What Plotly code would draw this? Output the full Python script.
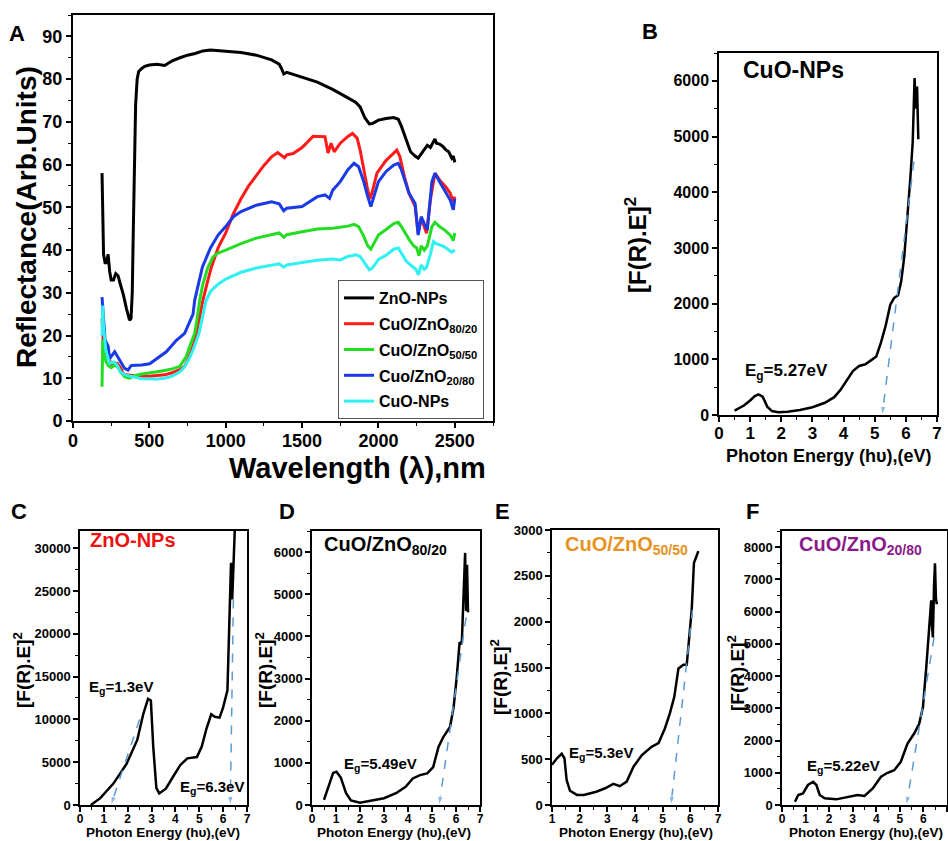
import plotly.graph_objects as go

# ---------------- Panel A data (reflectance vs wavelength) ----------------
zno_wl = [190, 193, 196, 200, 210, 220, 230, 240, 250, 265, 280, 295, 310, 330, 350, 360, 370, 380,
          388, 395, 400, 405, 410, 420, 430, 450, 470, 500, 550, 600, 650, 700, 750, 800, 850, 900,
          950, 1000, 1100, 1200, 1300, 1350, 1365, 1380, 1400, 1450, 1500, 1600, 1700, 1750, 1800,
          1850, 1880, 1910, 1940, 1960, 2000, 2050, 2100, 2130, 2150, 2180, 2210, 2240, 2260, 2280,
          2300, 2320, 2340, 2360, 2370, 2380, 2400, 2420, 2440, 2460, 2480, 2490, 2500]
zno_r = [58, 50, 42, 39, 37, 37, 39, 35, 33, 33, 34.5, 34, 32, 29.5, 26.3, 24.5, 23.6, 24,
         30, 45, 57, 67, 74, 80, 81.8, 82.5, 83, 83.3, 83.5, 83.2, 84.3, 85, 85.6, 86, 86.6, 86.8,
         86.6, 86.5, 86.2, 85.6, 84.5, 83.5, 82.5, 81.2, 81.6, 81, 80.5, 79.3, 77.6, 76.5, 75.6,
         74.6, 73.5, 71, 69.5, 69.6, 70.4, 70.8, 71, 70.6, 69, 66, 63, 62, 61.5, 62.5,
         63.5, 64.5, 64, 65.5, 66, 65, 64.8, 64.3, 63.5, 63, 61.5, 62, 60.5]

cz8020_wl = [190, 195, 200, 210, 230, 250, 270, 290, 310, 330, 350, 400, 450, 500, 600, 650, 700,
             731, 760, 790, 808, 830, 851, 880, 906, 950, 1000, 1050, 1100, 1150, 1200, 1250, 1300,
             1340, 1370, 1385, 1400, 1441, 1500, 1572, 1650, 1670, 1690, 1710, 1750, 1800, 1830,
             1860, 1880, 1900, 1930, 1945, 1960, 1990, 2050, 2100, 2120, 2140, 2170, 2200, 2240,
             2260, 2280, 2300, 2315, 2340, 2370, 2400, 2440, 2470, 2490, 2500]
cz8020_r = [24, 21, 17, 15, 15.5, 13, 13.5, 13.5, 12.5, 11, 10.8, 10.6, 10.5, 10.5, 10.8, 11.3, 12,
            12.8, 15, 18, 20.5, 24.5, 28.3, 32.5, 36, 40.5, 44, 48.5, 52, 55, 57.5, 59.8, 61.8,
            62.8, 62, 61.6, 62.3, 62.6, 64, 66.6, 66.5, 62.7, 65, 63, 65, 66.6, 67.3,
            66.2, 63.4, 59.5, 54, 52, 53.7, 58, 61, 62.7, 63.4, 61.9, 57.2, 53.3, 50.2,
            43.9, 47.4, 45.5, 43.9, 51.7, 58, 56.4, 54.8, 53.3, 51.3, 52.5]

cz5050_wl = [190, 195, 200, 215, 230, 250, 270, 290, 310, 340, 370, 400, 450, 500, 550, 600, 650,
             700, 740, 770, 797, 815, 830, 850, 884, 917, 950, 1000, 1100, 1200, 1300, 1350, 1380,
             1400, 1500, 1600, 1700, 1800, 1840, 1870, 1900, 1930, 1950, 1970, 2000, 2050, 2100,
             2130, 2150, 2200, 2230, 2250, 2265, 2280, 2300, 2320, 2350, 2370, 2400, 2440, 2470,
             2490, 2500]
cz5050_r = [8, 19, 16, 14, 13, 12.5, 13, 12.8, 11.5, 10.3, 10, 10.6, 11, 11.2, 11.5, 11.8, 12.2,
            12.8, 15, 18, 20.5, 24.5, 28.3, 32, 36, 38.4, 39.3, 40, 41.5, 42.8, 43.7, 44, 43,
            43.6, 44.3, 44.9, 45.1, 45.6, 46, 45.5, 43.5, 41, 40.2, 41.5, 43.5, 44.8, 46.2,
            46.5, 45.5, 42.5, 41, 40.5, 38.7, 41, 40, 41, 45.5, 46.5, 45.5, 44.5, 43.5,
            42.2, 44]

cz2080_wl = [190, 200, 210, 230, 240, 273, 300, 338, 360, 382, 450, 502, 611, 677, 731, 786, 797,
             847, 900, 950, 1000, 1050, 1100, 1200, 1300, 1350, 1380, 1400, 1500, 1600, 1650, 1680,
             1700, 1750, 1800, 1840, 1870, 1900, 1930, 1950, 1970, 2000, 2050, 2100, 2130, 2150,
             2200, 2240, 2260, 2280, 2300, 2320, 2350, 2370, 2400, 2440, 2470, 2490, 2500]
cz2080_r = [29, 24, 19, 17.5, 14.6, 16.2, 14.5, 12.3, 11.9, 13, 13.1, 13.4, 16.2, 18.9, 20.5, 25, 28.3,
            36, 40.5, 43.5, 45.5, 47.8, 49, 50.5, 51.3, 50.8, 49.2, 49.8, 50.2, 52.5, 52.9, 52.1,
            54, 56, 58.8, 60.3, 59.5, 56.4, 52.5, 50.2, 52.5, 56, 58.4, 59.9, 60.3, 58.8,
            53.3, 50.9, 43.5, 47.8, 46.2, 44.7, 56, 58, 56, 53.7, 51.7, 49.4, 52]

cuo_wl = [190, 195, 200, 215, 240, 270, 290, 310, 340, 370, 400, 450, 500, 550, 600, 650, 700, 731,
          760, 790, 825, 850, 870, 900, 950, 1000, 1100, 1200, 1300, 1350, 1380, 1400, 1500, 1600,
          1700, 1750, 1800, 1850, 1880, 1910, 1940, 1960, 2000, 2050, 2100, 2130, 2150, 2180, 2220,
          2245, 2262, 2280, 2300, 2315, 2340, 2360, 2380, 2400, 2430, 2460, 2480, 2500]
cuo_r = [20, 27, 22, 16.5, 13.5, 13.8, 13, 11.5, 10.8, 10.5, 10.3, 9.9, 9.8, 9.8, 10, 10.5, 11.5, 12.7,
         14.5, 17, 20.5, 25, 28, 30.3, 32, 33.2, 34.8, 35.8, 36.5, 36.8, 36, 36.5, 37.1, 37.6,
         37.9, 37.7, 38.5, 38.9, 38.5, 37, 35.4, 35.8, 37.8, 38.8, 40.2, 40.5, 39.3, 37.5, 36.2,
         35.5, 34.2, 36.5, 35.5, 36, 39, 42, 41.5, 41.2, 40.8, 40, 39.5, 40]

series_names = ["ZnO-NPs", "CuO/ZnO<sub>80/20</sub>", "CuO/ZnO<sub>50/50</sub>",
                "Cuo/ZnO<sub>20/80</sub>", "CuO-NPs"]
series_colors = ["#000000", "#ff1a1a", "#22dd22", "#1a3ae6", "#30f0f0"]

# ---------------- Tauc plots data ----------------
b_e = [0.5, 0.8, 1.0, 1.15, 1.27, 1.4, 1.55, 1.7, 1.9, 2.2, 2.6, 3.0, 3.4, 3.7, 3.9, 4.1, 4.3, 4.5,
       4.7, 4.9, 5.05, 5.2, 5.35, 5.5, 5.62, 5.75, 5.85, 5.95, 6.05, 6.15, 6.22, 6.28, 6.32, 6.36, 6.4]
b_f = [80, 170, 260, 340, 370, 330, 150, 70, 50, 60, 90, 140, 220, 320, 450, 620, 790, 880,
       910, 990, 1050, 1300, 1600, 1980, 2100, 2150, 2400, 2850, 3500, 4300, 4900, 6050, 5500, 5900, 4950]
b_fit_e = [6.26, 5.24]
b_fit_f = [4550, 0]

c_e = [0.45, 0.85, 1.4, 1.95, 2.4, 2.65, 2.85, 2.97, 3.07, 3.2, 3.32, 3.6, 3.9, 4.2, 4.5, 4.9, 5.1,
       5.3, 5.5, 5.65, 5.85, 6.0, 6.18, 6.27, 6.33, 6.38, 6.42, 6.5]
c_f = [0, 800, 2500, 4800, 7600, 10600, 12400, 12200, 6800, 2000, 1350, 1900, 3300, 4650, 5450, 5600,
       6800, 8900, 10600, 10300, 10200, 11400, 13400, 21500, 28300, 24000, 28000, 33000]
c_fit1_e = [2.5, 1.3]
c_fit1_f = [10000, 0]
c_fit2_e = [6.43, 6.3]
c_fit2_f = [24000, 0]

d_e = [0.5, 0.62, 0.75, 0.88, 1.02, 1.2, 1.42, 1.62, 2.0, 2.5, 3.0, 3.5, 3.9, 4.2, 4.5, 4.8, 5.05,
       5.27, 5.47, 5.75, 5.9, 6.03, 6.15, 6.24, 6.32, 6.38, 6.42, 6.46, 6.5]
d_f = [120, 320, 590, 760, 790, 650, 280, 110, 55, 100, 160, 280, 430, 630, 710, 750, 900,
       1380, 1610, 1850, 2320, 3030, 3860, 3820, 5300, 5980, 4600, 5700, 4570]
d_fit_e = [6.42, 5.3]
d_fit_f = [4450, 0]

e_e = [1.0, 1.18, 1.35, 1.45, 1.53, 1.65, 1.9, 2.15, 2.6, 2.9, 3.22, 3.45, 3.7, 3.95, 4.25, 4.6,
       4.85, 5.08, 5.26, 5.42, 5.57, 5.75, 5.87, 5.97, 6.05, 6.13, 6.23, 6.29]
e_f = [440, 510, 560, 510, 270, 155, 110, 110, 145, 180, 230, 205, 255, 420, 545, 635,
       675, 835, 1000, 1180, 1490, 1530, 1530, 1870, 2130, 2640, 2730, 2770]
e_fit_e = [6.08, 5.3]
e_fit_f = [2130, 0]

f_e = [0.55, 0.69, 0.89, 1.1, 1.32, 1.46, 1.6, 1.81, 2.3, 2.86, 3.2, 3.5, 3.85, 4.2, 4.48, 4.76,
       5.04, 5.32, 5.6, 5.82, 5.98, 6.12, 6.23, 6.33, 6.36, 6.4, 6.45, 6.49, 6.53, 6.57]
f_f = [100, 310, 360, 620, 720, 620, 310, 210, 175, 255, 310, 280, 515, 875, 1000, 1080,
       1340, 1900, 2210, 2520, 3040, 4270, 5300, 6350, 5600, 5200, 6800, 7500, 6400, 6230]
f_fit_e = [6.45, 5.28]
f_fit_f = [5200, 0]

W, H = 948, 841
FONT = "Liberation Sans, Arial, sans-serif"
FIT_COLOR = "#5b9bd5"


def px(x):
    return x / W


def py(y):
    return 1 - y / H


fig = go.Figure()

# Panel A traces
a_x = [zno_wl, cz8020_wl, cz5050_wl, cz2080_wl, cuo_wl]
a_y = [zno_r, cz8020_r, cz5050_r, cz2080_r, cuo_r]
for i, (xs, ys, nm, col) in enumerate(zip(a_x, a_y, series_names, series_colors)):
    fig.add_trace(go.Scatter(x=xs, y=ys, name=nm, mode="lines", legendgroup=f"g{i}",
                             line=dict(color=col, width=3), xaxis="x", yaxis="y"))

panels = [
    ("2", b_e, b_f, [(b_fit_e, b_fit_f)]),
    ("3", c_e, c_f, [(c_fit1_e, c_fit1_f), (c_fit2_e, c_fit2_f)]),
    ("4", d_e, d_f, [(d_fit_e, d_fit_f)]),
    ("5", e_e, e_f, [(e_fit_e, e_fit_f)]),
    ("6", f_e, f_f, [(f_fit_e, f_fit_f)]),
]
for ax, xs, ys, fits in panels:
    fig.add_trace(go.Scatter(x=xs, y=ys, mode="lines", showlegend=False,
                             line=dict(color="black", width=2.5),
                             xaxis="x" + ax, yaxis="y" + ax))
    for fe, ff in fits:
        fig.add_trace(go.Scatter(x=fe, y=ff, mode="lines+markers", showlegend=False,
                                 line=dict(color=FIT_COLOR, width=1.5, dash="dash"),
                                 marker=dict(symbol="arrow", size=[0, 9], angleref="previous",
                                             color=FIT_COLOR),
                                 cliponaxis=False,
                                 xaxis="x" + ax, yaxis="y" + ax))


def axis_style(tick_size, rng, dtick, minor_dtick, domain, anchor, lw=1.5, standoff=0):
    return dict(range=rng, dtick=dtick, tick0=0, domain=domain, anchor=anchor,
                showline=True, linecolor="black", linewidth=lw, mirror=True,
                ticks="outside", ticklen=5, tickwidth=1.5, tickcolor="black",
                minor=dict(dtick=minor_dtick, ticks="outside", ticklen=3, tickwidth=1.2,
                           tickcolor="black"),
                showgrid=False, zeroline=False, exponentformat="none", separatethousands=False,
                tickformat="d", ticklabelstandoff=standoff,
                tickfont=dict(family=FONT, size=tick_size, color="black", weight="bold"))


layout = dict(width=W, height=H, margin=dict(l=0, r=0, t=0, b=0, autoexpand=False),
              paper_bgcolor="white", plot_bgcolor="white",
              font=dict(family=FONT, color="black"))

# Panel A axes
layout["xaxis"] = axis_style(18, [0, 2750], 500, 250, [px(73), px(493)], "y", lw=2, standoff=-3)
layout["yaxis"] = axis_style(18, [0, 95], 10, 5, [py(421), py(15)], "x", lw=2)
# Panel B
layout["xaxis2"] = axis_style(17, [0, 7], 1, 0.5, [px(719), px(937)], "y2", standoff=-3)
layout["yaxis2"] = axis_style(16, [0, 6500], 1000, 500, [py(415), py(53)], "x2")
# Panels C-F
layout["xaxis3"] = axis_style(12, [0, 7], 1, 0.5, [px(80), px(247)], "y3", standoff=-3)
layout["yaxis3"] = axis_style(13, [0, 32000], 5000, 2500, [py(805), py(531)], "x3")
layout["xaxis4"] = axis_style(12, [0, 7], 1, 0.5, [px(312), px(480)], "y4", standoff=-3)
layout["yaxis4"] = axis_style(13, [0, 6500], 1000, 500, [py(805), py(531)], "x4")
layout["xaxis5"] = axis_style(12, [1, 7], 1, 0.5, [px(552), px(718)], "y5", standoff=-3)
layout["yaxis5"] = axis_style(13, [0, 3000], 500, 250, [py(805), py(530)], "x5")
layout["xaxis6"] = axis_style(12, [0, 7], 1, 0.5, [px(782), px(947)], "y6", standoff=-3)
layout["yaxis6"] = axis_style(13, [0, 8500], 1000, 500, [py(805), py(531)], "x6")

layout["legend"] = dict(x=px(338), y=py(280), xanchor="left", yanchor="top",
                        bordercolor="#555555", borderwidth=1, bgcolor="white",
                        font=dict(family=FONT, size=16, color="black", weight="bold"),
                        tracegroupgap=2, itemwidth=30, traceorder="grouped")
fig.update_layout(**layout)

ann = []


def text(x, y, s, size, color="black", xanchor="center", angle=0, bold=True):
    ann.append(dict(x=px(x), y=py(y), xref="paper", yref="paper", text=s, showarrow=False,
                    xanchor=xanchor, yanchor="middle", textangle=angle,
                    font=dict(family=FONT, size=size, color=color,
                              weight="bold" if bold else "normal")))


# panel letters
for lx, ly, lt in [(17, 33, "A"), (650, 31, "B"), (19, 511, "C"), (287, 511, "D"),
                   (502, 511, "E"), (752, 511, "F")]:
    text(lx, ly, lt, 22)

# axis titles
text(357, 468, "Wavelength (λ),nm", 29)
text(27, 217, "Reflectance(Arb.Units)", 28, angle=-90)
text(828, 456, "Photon Energy (hυ),(eV)", 18)
text(636, 245, "[F(R).E]<sup>2</sup>", 24, angle=-90)
ylab = "[F(R).E]<sup>2</sup>"
xlab = "Photon Energy (hυ),(eV)"
for cx_, cyl, ylx in [(163, 670, 22), (394, 670, 264), (636, 677, 499), (866, 673, 736)]:
    text(cx_, 832, xlab, 13.5)
    text(ylx, cyl, ylab, 19, angle=-90)

# sample titles
text(741, 70, "CuO-NPs", 23, xanchor="left")
text(88, 540, "ZnO-NPs", 20, color="#ee1111", xanchor="left")
text(322, 545, "CuO/ZnO<sub>80/20</sub>", 20, xanchor="left")
text(563, 545, "CuO/ZnO<sub>50/50</sub>", 20, color="#e8921e", xanchor="left")
text(797, 545, "CuO/ZnO<sub>20/80</sub>", 20, color="#8b1a8b", xanchor="left")

# band gap labels
text(743, 372, "E<sub>g</sub>=5.27eV", 17, xanchor="left")
text(87, 687, "E<sub>g</sub>=1.3eV", 15, xanchor="left")
text(178, 787, "E<sub>g</sub>=6.3eV", 15, xanchor="left")
text(342, 764, "E<sub>g</sub>=5.49eV", 15, xanchor="left")
text(567, 753, "E<sub>g</sub>=5.3eV", 15, xanchor="left")
text(805, 766, "E<sub>g</sub>=5.22eV", 15, xanchor="left")

fig.update_layout(annotations=ann)
fig.write_html("out.html", config={"displayModeBar": False},
               post_script="document.body.style.margin='0';document.body.style.padding='0';")
